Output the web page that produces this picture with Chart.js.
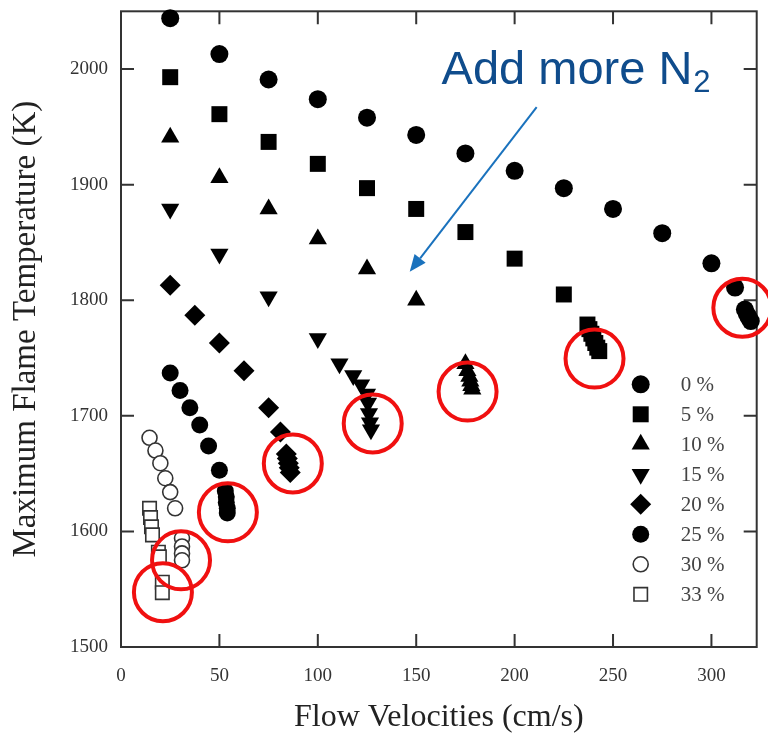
<!DOCTYPE html>
<html>
<head>
<meta charset="utf-8">
<title>Maximum Flame Temperature vs Flow Velocities</title>
<script src="https://cdn.jsdelivr.net/npm/chart.js@4.4.1/dist/chart.umd.min.js"></script>
<style>
  html, body { margin: 0; padding: 0; background: #fff; }
</style>
</head>
<body>
<canvas id="grafico" width="768" height="737"></canvas>
<script>
// N2 dilution series (legend labels)
const seriesLabels = ["0 %", "5 %", "10 %", "15 %", "20 %", "25 %", "30 %", "33 %"];

// flow velocity (cm/s) and max flame temperature (K)
const vel0 = [25, 50, 75, 100, 125, 150, 175, 200, 225, 250, 275, 300, 312, 317, 318, 319, 320];
const temp0 = [2044, 2013, 1991, 1974, 1958, 1943, 1927, 1912, 1897, 1879, 1858, 1832, 1811, 1792, 1788, 1785, 1782];

const vel5 = [25, 50, 75, 100, 125, 150, 175, 200, 225, 237, 238, 239, 240, 241, 242, 243];
const temp5 = [1993, 1961, 1937, 1918, 1897, 1879, 1859, 1836, 1805, 1779, 1775, 1771, 1767, 1763, 1759, 1756];

const vel10 = [25, 50, 75, 100, 125, 150, 175, 176, 177, 177.5, 178, 178.5];
const temp10 = [1941, 1906, 1879, 1853, 1827, 1800, 1745, 1739, 1734, 1730, 1726, 1723];

const vel15 = [25, 50, 75, 100, 111, 118, 122, 125, 125.5, 126, 126.5, 127];
const temp15 = [1879, 1840, 1803, 1767, 1745, 1735, 1727, 1719, 1711, 1702, 1694, 1688];

const vel20 = [25, 37.5, 50, 62.5, 75, 81, 84, 84.5, 85, 85.5, 86];
const temp20 = [1813, 1787, 1763, 1739, 1707, 1686, 1667, 1663, 1659, 1655, 1651];

const vel25 = [25, 30, 35, 40, 44.5, 50, 53, 53.5, 53.5, 54, 54];
const temp25 = [1737, 1722, 1707, 1692, 1674, 1653, 1635, 1630, 1625, 1620, 1616];

const vel30 = [14.5, 17.5, 20, 22.5, 25, 27.5, 31, 31, 31, 31];
const temp30 = [1681, 1670, 1659, 1646, 1634, 1620, 1594, 1587, 1581, 1575];

const vel33 = [14.5, 15, 15.5, 16, 19, 19.5, 21, 21];
const temp33 = [1620, 1612, 1604, 1597, 1582, 1578, 1556, 1547];

// red highlight circles (centre in data units)
const circleVel = [240.6, 315.7, 176.1, 127.9, 87.3, 54.3, 30.5, 21.3];
const circleTemp = [1749.5, 1793.5, 1721, 1693.4, 1658.8, 1616.5, 1575, 1547.4];

// "Add more N2" arrow (start -> tip) and label anchor, data units
const arrowVel = [211.2, 146.7];
const arrowTemp = [1967, 1824.6];
const noteVel = 162.9;
const noteTemp = 1987;

const xTicks = [0, 50, 100, 150, 200, 250, 300];
const yTicks = [1500, 1600, 1700, 1800, 1900, 2000];

function pares(xs, ys) {
  return xs.map((x, i) => ({ x: x, y: ys[i] }));
}

// marker look for each series
const marcadores = [
  { style: "circle", radius: 9, rotation: 0, fill: "#000", stroke: "#000", width: 0 },
  { style: "rect", radius: 11.3, rotation: 0, fill: "#000", stroke: "#000", width: 0 },
  { style: "triangle", radius: 10.5, rotation: 0, fill: "#000", stroke: "#000", width: 0 },
  { style: "triangle", radius: 10.5, rotation: 180, fill: "#000", stroke: "#000", width: 0 },
  { style: "rectRot", radius: 10.5, rotation: 0, fill: "#000", stroke: "#000", width: 0 },
  { style: "circle", radius: 8.5, rotation: 0, fill: "#000", stroke: "#000", width: 0 },
  { style: "circle", radius: 7.5, rotation: 0, fill: "#fff", stroke: "#333", width: 1.6 },
  { style: "rect", radius: 9.5, rotation: 0, fill: "#fff", stroke: "#333", width: 1.6 }
];

const allVel = [vel0, vel5, vel10, vel15, vel20, vel25, vel30, vel33];
const allTemp = [temp0, temp5, temp10, temp15, temp20, temp25, temp30, temp33];

const datasets = seriesLabels.map((label, i) => {
  const m = marcadores[i];
  return {
    label: label,
    data: pares(allVel[i], allTemp[i]),
    pointStyle: m.style,
    pointRadius: m.radius,
    pointRotation: m.rotation,
    pointBackgroundColor: m.fill,
    pointBorderColor: m.stroke,
    pointBorderWidth: m.width,
    pointHoverRadius: m.radius,
    showLine: false,
    clip: false
  };
});

// frame + inward tick marks
const molduraPlugin = {
  id: "moldura",
  beforeDatasetsDraw(chart) {
    const { ctx, chartArea: a, scales } = chart;
    ctx.save();
    ctx.strokeStyle = "#333";
    ctx.lineWidth = 2;
    ctx.strokeRect(a.left, a.top, a.right - a.left, a.bottom - a.top);
    const len = 13;
    ctx.beginPath();
    xTicks.forEach((v) => {
      if (v === 0) return;
      const px = scales.x.getPixelForValue(v);
      ctx.moveTo(px, a.bottom); ctx.lineTo(px, a.bottom - len);
      ctx.moveTo(px, a.top); ctx.lineTo(px, a.top + len);
    });
    yTicks.forEach((v) => {
      if (v === 1500) return;
      const py = scales.y.getPixelForValue(v);
      ctx.moveTo(a.left, py); ctx.lineTo(a.left + len, py);
      ctx.moveTo(a.right, py); ctx.lineTo(a.right - len, py);
    });
    ctx.stroke();
    ctx.restore();
  }
};

// legend inside plot, red circles, arrow and note
const anotacoesPlugin = {
  id: "anotacoes",
  afterDatasetsDraw(chart) {
    const { ctx, chartArea: a, scales } = chart;
    const xs = scales.x, ys = scales.y;
    ctx.save();

    // legend
    const lx = a.right - 116;
    let ly = a.top + 373;
    ctx.font = '21px "Liberation Serif"';
    ctx.textBaseline = "middle";
    ctx.textAlign = "left";
    seriesLabels.forEach((label, i) => {
      const m = marcadores[i];
      ctx.fillStyle = m.fill;
      ctx.strokeStyle = m.stroke;
      ctx.lineWidth = m.width;
      Chart.helpers.drawPoint(ctx, { pointStyle: m.style, radius: m.radius, rotation: m.rotation, borderWidth: m.width }, lx, ly);
      ctx.fillStyle = "#444";
      ctx.fillText(label, lx + 40, ly + 1);
      ly += 30;
    });

    // red circles
    ctx.strokeStyle = "#f01010";
    ctx.lineWidth = 4;
    circleVel.forEach((v, i) => {
      ctx.beginPath();
      ctx.arc(xs.getPixelForValue(v), ys.getPixelForValue(circleTemp[i]), 29, 0, Math.PI * 2);
      ctx.stroke();
    });

    // arrow
    const x1 = xs.getPixelForValue(arrowVel[0]), y1 = ys.getPixelForValue(arrowTemp[0]);
    const x2 = xs.getPixelForValue(arrowVel[1]), y2 = ys.getPixelForValue(arrowTemp[1]);
    const ang = Math.atan2(y2 - y1, x2 - x1);
    const head = 17, half = 7;
    const bx = x2 - Math.cos(ang) * head, by = y2 - Math.sin(ang) * head;
    ctx.strokeStyle = "#1a72bd";
    ctx.fillStyle = "#1a72bd";
    ctx.lineWidth = 2;
    ctx.beginPath();
    ctx.moveTo(x1, y1); ctx.lineTo(bx, by);
    ctx.stroke();
    ctx.beginPath();
    ctx.moveTo(x2, y2);
    ctx.lineTo(bx + Math.sin(ang) * half, by - Math.cos(ang) * half);
    ctx.lineTo(bx - Math.sin(ang) * half, by + Math.cos(ang) * half);
    ctx.closePath();
    ctx.fill();

    // note text
    const tx = xs.getPixelForValue(noteVel), ty = ys.getPixelForValue(noteTemp);
    ctx.fillStyle = "#0f4c8c";
    ctx.textBaseline = "alphabetic";
    ctx.font = '47px "Liberation Sans"';
    ctx.fillText("Add more N", tx, ty);
    const w = ctx.measureText("Add more N").width;
    ctx.font = '31px "Liberation Sans"';
    ctx.fillText("2", tx + w + 1, ty + 8);

    ctx.restore();
  }
};

const fonteEixo = { family: "Liberation Serif", size: 19 };

function semPadding(s) {
  s.paddingTop = 0;
  s.paddingBottom = 0;
  s.paddingLeft = 0;
  s.paddingRight = 0;
}

new Chart(document.getElementById("grafico"), {
  type: "scatter",
  data: { datasets: datasets },
  options: {
    responsive: false,
    animation: false,
    layout: { padding: { top: 10, right: 10, left: 0, bottom: 0 } },
    plugins: {
      legend: { display: false },
      tooltip: { enabled: false }
    },
    scales: {
      x: {
        type: "linear",
        min: 0,
        max: 323,
        afterBuildTicks: (s) => { s.ticks = xTicks.map((v) => ({ value: v })); },
        afterFit: (s) => { s.height = 90; semPadding(s); },
        ticks: { color: "#333", font: fonteEixo, padding: 18, maxRotation: 0, callback: (v) => String(v) },
        grid: { display: false, drawTicks: false },
        border: { display: false },
        title: {
          display: true,
          text: "Flow Velocities (cm/s)",
          color: "#222",
          font: { family: "Liberation Serif", size: 32 },
          padding: { top: 0, bottom: 0 }
        }
      },
      y: {
        type: "linear",
        min: 1500,
        max: 2050,
        afterBuildTicks: (s) => { s.ticks = yTicks.map((v) => ({ value: v })); },
        afterFit: (s) => { s.width = 121; semPadding(s); },
        ticks: { color: "#333", font: fonteEixo, padding: 13, callback: (v) => String(v) },
        grid: { display: false, drawTicks: false },
        border: { display: false },
        title: {
          display: true,
          text: "Maximum Flame Temperature (K)",
          color: "#222",
          font: { family: "Liberation Serif", size: 33 },
          padding: { top: 7, bottom: 0 }
        }
      }
    }
  },
  plugins: [molduraPlugin, anotacoesPlugin]
});
</script>
</body>
</html>
